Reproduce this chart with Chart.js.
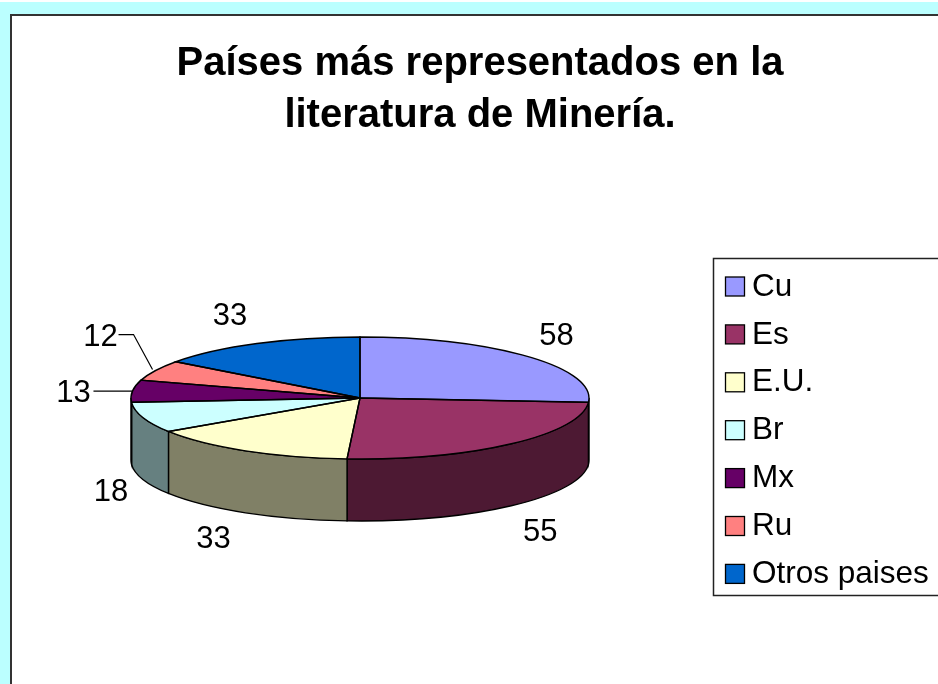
<!DOCTYPE html>
<html>
<head>
<meta charset="utf-8">
<title>Países más representados</title>
<style>
    html, body { margin: 0; height: 100%; overflow: hidden; background: #ffffff; }
    #sky { position: absolute; left: 0; top: 2px; right: 0; bottom: 0; background: #bbffff; }
    #panel { position: absolute; left: 10px; top: 14px; right: 0; bottom: 0; background: #ffffff; border-left: 2px solid #333; border-top: 2px solid #333; }
    #chart { position: absolute; left: 0; top: 0; }
</style>
</head>
<body>
<div id="sky"></div>
<div id="panel"></div>
<canvas id="chart" width="938" height="684"></canvas>
<script src="https://cdn.jsdelivr.net/npm/chart.js@4"></script>
<script>
const titleLines = ['Países más representados en la', 'literatura de Minería.'];
const countries = ['Cu', 'Es', 'E.U.', 'Br', 'Mx', 'Ru', 'Otros paises'];
const articles = [58, 55, 33, 18, 13, 12, 33];
const topColors = ['#9999ff', '#993366', '#ffffcc', '#ccffff', '#660066', '#ff8080', '#0066cc'];
const wallColors = ['#4d4d80', '#4d1933', '#808066', '#668080', '#330033', '#804040', '#003366'];

// Label position relative to the outer edge of each slice
const labelOffsets = [[29, -20], [29, 27], [-32, 27], [-32, 13], [-59, 2], [-55, -33], [-27, -27]];
const TILT = 61 / 229;
const DEPTH = 62;
const FONT = '"Liberation Sans", Arial, sans-serif';

function sliceEdge(arc, angle) {
    return {
        x: arc.x + arc.outerRadius * Math.cos(angle),
        y: arc.y + arc.outerRadius * TILT * Math.sin(angle)
    };
}

const piePerspective = {
    id: 'piePerspective',
    afterLayout(chart) {
        // Title is centred on the panel, not on the pie
        chart.titleBlock.left = 0;
        chart.titleBlock.right = 960;
    },
    beforeDatasetDraw(chart) {
        const ctx = chart.ctx;
        const arcs = chart.getDatasetMeta(0).data;
        ctx.save();
        ctx.strokeStyle = '#000';
        ctx.lineWidth = 1.4;
        arcs.forEach((arc, i) => {
            const from = Math.max(arc.startAngle, 0);
            const to = Math.min(arc.endAngle, Math.PI);
            if (to <= from) return;
            const rx = arc.outerRadius;
            const ry = rx * TILT;
            ctx.beginPath();
            ctx.ellipse(arc.x, arc.y, rx, ry, 0, from, to);
            ctx.ellipse(arc.x, arc.y + DEPTH, rx, ry, 0, to, from, true);
            ctx.closePath();
            ctx.fillStyle = wallColors[i];
            ctx.fill();
            ctx.stroke();
        });
        ctx.restore();

        // Squash the library's round pie into the top face
        const c = arcs[0];
        ctx.save();
        ctx.translate(c.x, c.y);
        ctx.scale(1, TILT);
        ctx.translate(-c.x, -c.y);
    },
    afterDatasetDraw(chart) {
        const ctx = chart.ctx;
        ctx.restore();
        ctx.save();
        ctx.strokeStyle = '#000';
        ctx.lineWidth = 1.4;
        chart.getDatasetMeta(0).data.forEach(arc => {
            ctx.beginPath();
            ctx.moveTo(arc.x, arc.y);
            ctx.ellipse(arc.x, arc.y, arc.outerRadius, arc.outerRadius * TILT, 0, arc.startAngle, arc.endAngle);
            ctx.closePath();
            ctx.stroke();
        });
        ctx.restore();
    },
    afterDraw(chart) {
        const ctx = chart.ctx;
        const arcs = chart.getDatasetMeta(0).data;
        ctx.save();
        ctx.fillStyle = '#000';
        ctx.strokeStyle = '#000';
        ctx.lineWidth = 1.2;
        ctx.font = '31px ' + FONT;
        ctx.textAlign = 'center';
        ctx.textBaseline = 'middle';

        arcs.forEach((arc, i) => {
            const mid = (arc.startAngle + arc.endAngle) / 2;
            const edge = sliceEdge(arc, mid);
            const front = Math.sin(mid) > 0.1 ? DEPTH : 0;
            const x = edge.x + labelOffsets[i][0];
            const y = edge.y + front + labelOffsets[i][1];
            ctx.fillText(String(articles[i]), x, y);

            // Leader lines for the two thin slices
            if (countries[i] === 'Mx') {
                ctx.beginPath();
                ctx.moveTo(x + 20, y - 2);
                ctx.lineTo(edge.x, y - 2);
                ctx.stroke();
            } else if (countries[i] === 'Ru') {
                ctx.beginPath();
                ctx.moveTo(x + 18, y - 3);
                ctx.lineTo(x + 33, y - 3);
                ctx.lineTo(edge.x - 3, edge.y - 1);
                ctx.stroke();
            }
        });

        // Legend
        ctx.strokeStyle = '#222';
        ctx.lineWidth = 1.5;
        ctx.strokeRect(713.5, 258.5, 300, 337);
        ctx.textAlign = 'left';
        ctx.font = '31.5px ' + FONT;
        ctx.lineWidth = 1.3;
        countries.forEach((name, i) => {
            const y = 277 + i * 47.9;
            ctx.fillStyle = topColors[i];
            ctx.fillRect(725.5, y, 19, 19);
            ctx.strokeStyle = '#000';
            ctx.strokeRect(725.5, y, 19, 19);
            ctx.fillStyle = '#000';
            ctx.fillText(name, 752, y + 10);
        });
        ctx.restore();
    }
};

new Chart(document.getElementById('chart'), {
    type: 'pie',
    data: {
        labels: countries,
        datasets: [{
            data: articles,
            backgroundColor: topColors,
            borderWidth: 0
        }]
    },
    plugins: [piePerspective],
    options: {
        responsive: false,
        animation: false,
        events: [],
        layout: {
            padding: { left: 131, right: 349, bottom: 57 }
        },
        plugins: {
            legend: { display: false },
            tooltip: { enabled: false },
            title: {
                display: true,
                text: titleLines,
                color: '#000',
                font: { family: FONT, size: 40, weight: 'bold', lineHeight: 1.3 },
                padding: { top: 38, bottom: 27 }
            }
        }
    }
});
</script>
</body>
</html>
